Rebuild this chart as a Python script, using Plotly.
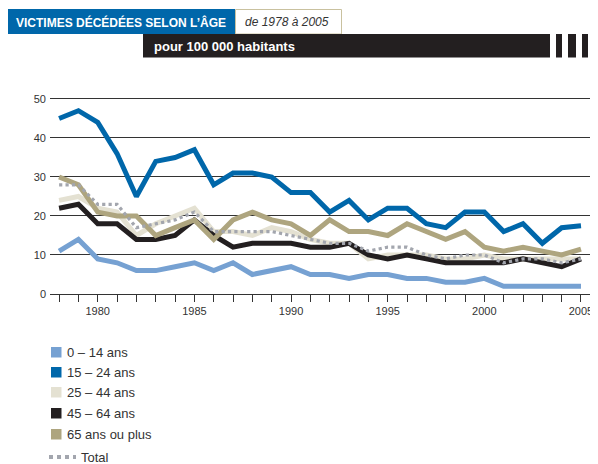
import plotly.graph_objects as go

years = list(range(1978, 2006))
age_0_14 = [11, 14, 9, 8, 6, 6, 7, 8, 6, 8, 5, 6, 7, 5, 5, 4, 5, 5, 4, 4, 3, 3, 4, 2, 2, 2, 2, 2]
age_15_24 = [45, 47, 44, 36, 25, 34, 35, 37, 28, 31, 31, 30, 26, 26, 21, 24, 19, 22, 22, 18, 17, 21, 21, 16, 18, 13, 17, 17.5]
age_25_44 = [24, 25, 22, 21, 15, 18, 20, 22, 16, 16, 15, 17, 16, 14, 13, 13, 9, 10, 10, 10, 9, 9, 10, 9, 9, 9, 9, 9]
age_45_64 = [22, 23, 18, 18, 14, 14, 15, 19, 15, 12, 13, 13, 13, 12, 12, 13, 10, 9, 10, 9, 8, 8, 8, 8, 9, 8, 7, 9]
age_65p = [30, 28, 21, 20, 20, 15, 17, 19, 14, 19, 21, 19, 18, 15, 19, 16, 16, 15, 18, 16, 14, 16, 12, 11, 12, 11, 10, 11.5]
total = [28, 28, 23, 23, 17, 18, 19, 21, 16, 16, 16, 16, 15, 14, 13, 13, 11, 12, 12, 10, 9, 10, 10, 8, 9, 9, 8, 9]

names = ["0 – 14 ans", "15 – 24 ans", "25 – 44 ans", "45 – 64 ans", "65 ans ou plus", "Total"]
colors = ["#76a1d2", "#0067aa", "#e4e1d2", "#231f20", "#aea57f", "#a3a6ae"]
series = [age_0_14, age_15_24, age_25_44, age_45_64, age_65p, total]

yticks = [0, 10, 20, 30, 40, 50]
xtick_text = [str(y) if y % 5 == 0 else "" for y in years]

FONT = "Liberation Sans, Arial, sans-serif"

# page has an 8px body margin: figure is drawn from (8, 8)
OFF = 8
W, H = 598 - OFF, 464 - OFF
L, T, B = 50 - OFF, 90 - OFF, 464 - 294
PW, PH = W - L, H - T - B

def px(sx):
    return (sx - OFF - L) / PW

def py(sy):
    return (H - B - (sy - OFF)) / PH

fig = go.Figure()

draw_order = [2, 0, 1, 3, 4, 5]
for i in draw_order:
    if i == 5:
        line = dict(color=colors[i], width=3.2, dash="dot")
    else:
        line = dict(color=colors[i], width=5)
    fig.add_trace(go.Scatter(x=years, y=series[i], mode="lines", line=line,
                             name=names[i], showlegend=False, hoverinfo="skip"))

shapes = []
annotations = []
# header blue box
shapes.append(dict(type="rect", xref="paper", yref="paper", x0=px(5), x1=px(235), y0=py(34), y1=py(9),
                   fillcolor="#0067aa", line=dict(width=0), layer="above"))
shapes.append(dict(type="rect", xref="paper", yref="paper", x0=px(235.5), x1=px(341.5), y0=py(34), y1=py(9.5),
                   fillcolor="white", line=dict(width=1, color="#c9c19f"), layer="above"))
# black bar and stripes
shapes.append(dict(type="rect", xref="paper", yref="paper", x0=px(143), x1=px(550), y0=py(57.5), y1=py(34),
                   fillcolor="#231f20", line=dict(width=0), layer="above"))
for a, b in [(556, 562), (568, 576), (582, 588)]:
    shapes.append(dict(type="rect", xref="paper", yref="paper", x0=px(a), x1=px(b), y0=py(57.5), y1=py(34),
                       fillcolor="#231f20", line=dict(width=0), layer="above"))

annotations += [
    dict(text="<b>VICTIMES DÉCÉDÉES SELON L’ÂGE</b>", xref="paper", yref="paper", x=px(14), y=py(22),
         xanchor="left", yanchor="middle", showarrow=False, font=dict(family=FONT, size=12, color="white")),
    dict(text="<i>de 1978 à 2005</i>", xref="paper", yref="paper", x=px(243), y=py(22),
         xanchor="left", yanchor="middle", showarrow=False, font=dict(family=FONT, size=12, color="#333333")),
    dict(text="<b>pour 100 000 habitants</b>", xref="paper", yref="paper", x=px(152), y=py(46),
         xanchor="left", yanchor="middle", showarrow=False, font=dict(family=FONT, size=13, color="white")),
]

# manual legend
leg_rows = [352, 372, 392, 413, 434, 457]
for i, yy in enumerate(leg_rows):
    if i == 5:
        shapes.append(dict(type="line", xref="paper", yref="paper", x0=px(49), x1=px(76), y0=py(yy), y1=py(yy),
                           line=dict(color=colors[i], width=4, dash="dot"), layer="above"))
        tx = 79
    else:
        shapes.append(dict(type="rect", xref="paper", yref="paper", x0=px(51), x1=px(61.5), y0=py(yy + 5.5), y1=py(yy - 5),
                           fillcolor=colors[i], line=dict(width=0), layer="above"))
        tx = 65
    annotations.append(dict(text=names[i], xref="paper", yref="paper", x=px(tx), y=py(yy),
                            xanchor="left", yanchor="middle", showarrow=False,
                            font=dict(family=FONT, size=13, color="#333333")))

fig.update_layout(
    width=W, height=H,
    margin=dict(l=L, r=0, t=T, b=B, autoexpand=False),
    paper_bgcolor="white", plot_bgcolor="white",
    shapes=shapes, annotations=annotations,
    font=dict(family=FONT, color="#333333"),
    showlegend=False,
    xaxis=dict(range=[1977.53, 2005.88], tickvals=years, ticktext=xtick_text,
               ticks="outside", ticklen=7, tickcolor="#333333", tickwidth=1,
               showgrid=False, showline=False, zeroline=False,
               tickfont=dict(family=FONT, size=11, color="#333333"), fixedrange=True),
    yaxis=dict(range=[0, 52.3], tickvals=yticks, showgrid=True, gridcolor="#333333", gridwidth=1,
               zeroline=True, zerolinecolor="#333333", zerolinewidth=1, showline=False,
               ticks="", ticklabelstandoff=3,
               tickfont=dict(family=FONT, size=11, color="#333333"), fixedrange=True),
)

fig.write_html("out.html")
